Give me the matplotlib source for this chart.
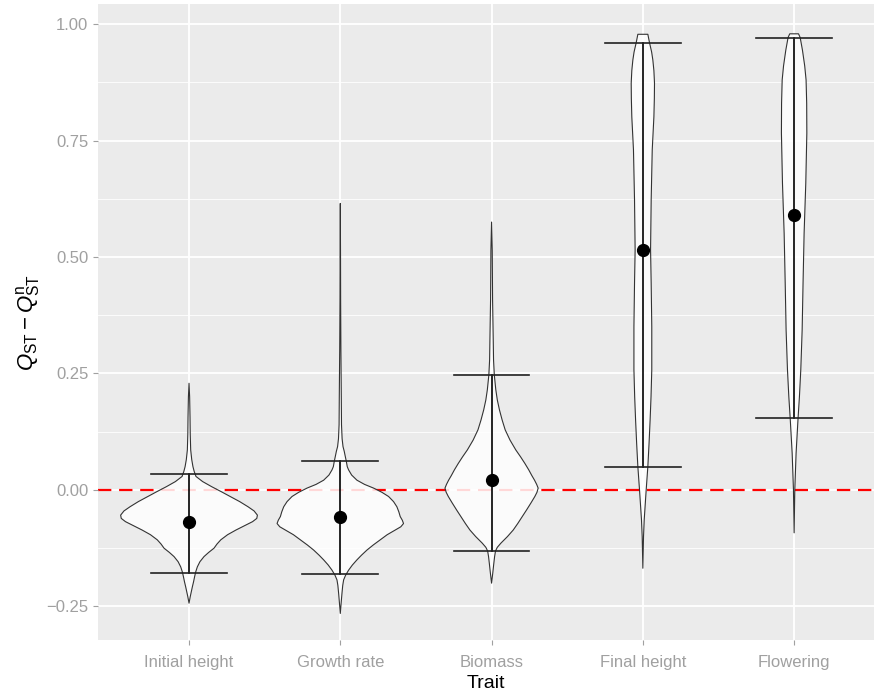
import matplotlib
matplotlib.use("Agg")
import matplotlib.pyplot as plt
import numpy as np

# Traits et statistiques
traits = ["Initial height", "Growth rate", "Biomass", "Final height", "Flowering"]
means = [-0.068, -0.057, 0.021, 0.515, 0.590]
ci_low = [-0.179, -0.180, -0.131, 0.049, 0.154]
ci_high = [0.034, 0.062, 0.247, 0.960, 0.971]

# Profils des violons : valeurs y et demi-largeurs (unites de l'axe x)
init_y = [0.229, 0.200, 0.157, 0.120, 0.086, 0.065, 0.050, 0.040, 0.029, 0.018, 0.007,
          -0.004, -0.014, -0.025, -0.036, -0.045, -0.054, -0.061, -0.068, -0.077, -0.086,
          -0.096, -0.107, -0.116, -0.125, -0.134, -0.143, -0.154, -0.165, -0.176, -0.186,
          -0.197, -0.208, -0.220, -0.229, -0.243]
init_w = [0.0, 0.004, 0.0066, 0.008, 0.011, 0.018, 0.026, 0.034, 0.046, 0.090, 0.150,
          0.215, 0.272, 0.335, 0.390, 0.430, 0.452, 0.448, 0.420, 0.365, 0.310,
          0.255, 0.210, 0.185, 0.165, 0.130, 0.099, 0.072, 0.055, 0.044, 0.037,
          0.030, 0.022, 0.014, 0.008, 0.0]

growth_y = [0.615, 0.500, 0.408, 0.300, 0.200, 0.140, 0.110, 0.093, 0.083, 0.075, 0.061,
            0.050, 0.043, 0.032, 0.021, 0.012, 0.004, -0.005, -0.014, -0.025, -0.036,
            -0.047, -0.057, -0.065, -0.072, -0.079, -0.086, -0.096, -0.107, -0.118, -0.129,
            -0.140, -0.150, -0.161, -0.172, -0.183, -0.193, -0.205, -0.222, -0.245, -0.265]
growth_w = [0.0, 0.0015, 0.0022, 0.004, 0.0066, 0.008, 0.012, 0.018, 0.026, 0.031, 0.040,
            0.046, 0.055, 0.075, 0.110, 0.160, 0.220, 0.275, 0.319, 0.352, 0.374,
            0.387, 0.396, 0.410, 0.418, 0.400, 0.363, 0.310, 0.264, 0.218, 0.176,
            0.140, 0.110, 0.080, 0.055, 0.035, 0.022, 0.016, 0.011, 0.005, 0.0]

biomass_y = [0.575, 0.515, 0.408, 0.322, 0.279, 0.247, 0.215, 0.193, 0.172, 0.150, 0.129,
             0.107, 0.086, 0.071, 0.057, 0.043, 0.031, 0.021, 0.012, 0.004, -0.005,
             -0.014, -0.028, -0.043, -0.057, -0.072, -0.086, -0.100, -0.114, -0.123, -0.131,
             -0.143, -0.157, -0.178, -0.200]
biomass_w = [0.0, 0.0044, 0.0066, 0.011, 0.013, 0.018, 0.028, 0.038, 0.052, 0.070, 0.090,
             0.122, 0.160, 0.192, 0.220, 0.246, 0.266, 0.284, 0.298, 0.308, 0.300,
             0.286, 0.260, 0.231, 0.203, 0.173, 0.143, 0.105, 0.062, 0.038, 0.026,
             0.020, 0.015, 0.008, 0.0]

final_y = [0.978, 0.960, 0.940, 0.923, 0.900, 0.873, 0.840, 0.801, 0.730, 0.622, 0.515,
           0.444, 0.350, 0.258, 0.200, 0.150, 0.100, 0.050, 0.0, -0.064, -0.100, -0.168]
final_w = [0.033, 0.044, 0.058, 0.066, 0.073, 0.077, 0.076, 0.073, 0.062, 0.055, 0.051,
           0.055, 0.059, 0.059, 0.054, 0.048, 0.041, 0.033, 0.022, 0.009, 0.0044, 0.0]

flower_y = [0.979, 0.971, 0.944, 0.910, 0.880, 0.830, 0.766, 0.658, 0.551, 0.444, 0.343,
            0.258, 0.200, 0.154, 0.079, 0.0, -0.092]
flower_w = [0.029, 0.040, 0.055, 0.070, 0.079, 0.083, 0.084, 0.077, 0.066, 0.059, 0.053,
            0.044, 0.035, 0.026, 0.013, 0.0044, 0.0]

profiles = [(init_y, init_w), (growth_y, growth_w), (biomass_y, biomass_w),
            (final_y, final_w), (flower_y, flower_w)]

plt.rcParams['font.family'] = ['Liberation Sans', 'DejaVu Sans']
plt.rcParams['mathtext.fontset'] = 'custom'
plt.rcParams['mathtext.rm'] = 'Liberation Sans'
plt.rcParams['mathtext.it'] = 'Liberation Sans:italic'

fig = plt.figure(figsize=(8.74, 6.95), dpi=100)
ax = fig.add_axes([97.5 / 874, 55 / 695, (874 - 97.5) / 874, 636 / 695])
ax.set_facecolor('#EBEBEB')
for s in ax.spines.values():
    s.set_visible(False)

pos = np.arange(1, len(traits) + 1)

# grille facon ggplot
yt = [-0.25, 0.0, 0.25, 0.50, 0.75, 1.00]
for v in yt:
    ax.axhline(v, color='white', lw=1.3, zorder=0.5)
for v in [-0.125, 0.125, 0.375, 0.625, 0.875]:
    ax.axhline(v, color='white', lw=0.6, zorder=0.5)
for p in pos:
    ax.axvline(p, color='white', lw=1.3, zorder=0.5)

ax.axhline(0, color='#FF0000', lw=1.6, ls=(0, (6, 3.5)), zorder=1.5)

for p, (yy, ww), m, lo, hi in zip(pos, profiles, means, ci_low, ci_high):
    yy = np.array(yy)
    ww = np.array(ww)
    xs = np.r_[p - ww, (p + ww)[::-1]]
    ys = np.r_[yy, yy[::-1]]
    ax.fill(xs, ys, facecolor=(1, 1, 1, 0.85), edgecolor='#333333', lw=0.8,
            joinstyle='round', zorder=2)
    ax.plot([p, p], [lo, hi], color='black', lw=1.2, zorder=3)
    ax.plot([p - 0.25, p + 0.25], [lo, lo], color='#222222', lw=1.2, zorder=3)
    ax.plot([p - 0.25, p + 0.25], [hi, hi], color='#222222', lw=1.2, zorder=3)
    ax.plot(p, m, 'o', color='black', ms=8.5, zorder=4)

ax.set_xlim(0.395, 5.528)
ax.set_ylim(-0.322, 1.043)
ax.set_xticks(pos)
ax.set_xticklabels(traits)
ax.set_yticks(yt)
ax.set_yticklabels([f'{v:.2f}'.replace('-', '\u2212') for v in yt])
ax.tick_params(axis='both', colors='#A0A0A0', labelcolor='#A0A0A0', labelsize=12,
               length=3.5, width=0.8)
ax.tick_params(axis='x', pad=7)
ax.tick_params(axis='y', pad=3)

ax.set_xlabel('Trait', fontsize=14, color='black', labelpad=4)
ax.set_ylabel(r'$Q_{\mathrm{ST}} - Q_{\mathrm{ST}}^{\mathrm{n}}$', fontsize=16, color='black', labelpad=3)

fig.savefig('out.png', dpi=100)
